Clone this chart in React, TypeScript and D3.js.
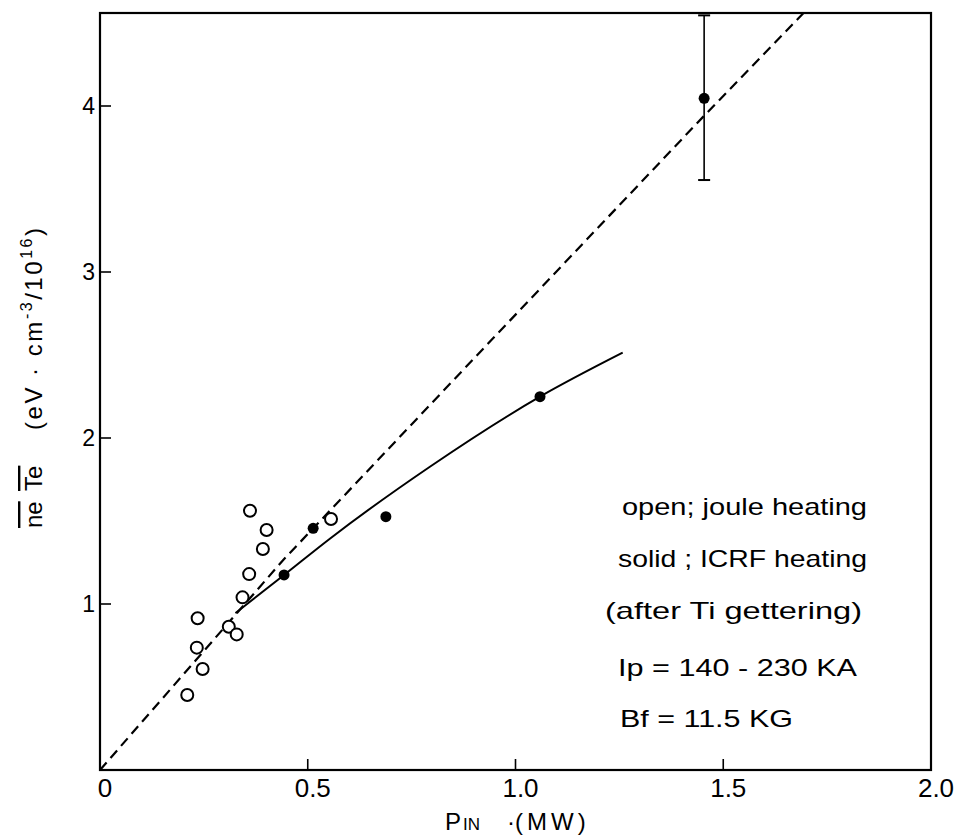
import React from "react";
import * as d3 from "d3";

// ---- data ----
const openX = [0.361, 0.401, 0.392, 0.359, 0.343, 0.235, 0.310, 0.329, 0.233, 0.247, 0.210, 0.556];
const openY = [1.562, 1.446, 1.331, 1.180, 1.040, 0.914, 0.863, 0.817, 0.737, 0.608, 0.452, 1.512];

const solidX = [0.443, 0.513, 0.688, 1.059, 1.454];
const solidY = [1.175, 1.456, 1.526, 2.249, 4.046];
const solidErrUp = [0, 0, 0, 0, 0.5];
const solidErrDown = [0, 0, 0, 0, 0.492];

const dashX = [0, 0.441, 0.858, 1.452, 1.70];
const dashY = [0, 1.265, 2.368, 3.936, 4.578];

const curveX = [0.326, 0.443, 0.554, 0.794, 1.059, 1.258];
const curveY = [0.945, 1.175, 1.395, 1.827, 2.249, 2.514];

const xTickVals = [0, 0.5, 1.0, 1.5, 2.0];
const xTickLabels = ["0", "0.5", "1.0", "1.5", "2.0"];
const yTickVals = [1, 2, 3, 4];
const yTickLabels = ["1", "2", "3", "4"];

const notes = [
  "open; joule heating",
  "solid ; ICRF heating",
  "(after Ti gettering)",
  "Ip = 140 - 230 KA",
  "Bf = 11.5  KG",
];

// ---- layout ----
const W = 958;
const H = 839;
const FONT = "'Liberation Sans', Arial, sans-serif";

export default function App() {
  const x = d3.scaleLinear().domain([0, 2.0]).range([100, 931]);
  const y = d3.scaleLinear().domain([0, 4]).range([770, 106]);
  const yTop = y.invert(13);

  const line = d3
    .line<[number, number]>()
    .x((d) => x(d[0]))
    .y((d) => y(d[1]));
  const curveLine = d3
    .line<[number, number]>()
    .x((d) => x(d[0]))
    .y((d) => y(d[1]))
    .curve(d3.curveMonotoneX);

  const dashPts = dashX.map((v, i) => [v, dashY[i]] as [number, number]);
  const curvePts = curveX.map((v, i) => [v, curveY[i]] as [number, number]);

  const noteX = [622, 618, 605, 618, 620];
  const noteW = [245, 249, 257, 239, 173];
  const noteBase = [515, 567, 619, 676, 727];

  const x0 = x(0);
  const x1 = x(2.0);
  const y0 = y(0);
  const y1 = y(yTop);

  return (
    <div style={{ position: "absolute", left: 0, top: 0 }}>
      <svg width={W} height={H} style={{ display: "block", background: "#fff" }}>
        <rect x={0} y={0} width={W} height={H} fill="#fff" />
        {/* frame */}
        <rect x={x0} y={y1} width={x1 - x0} height={y0 - y1} fill="none" stroke="#000" strokeWidth={2.2} />

        {/* x ticks */}
        {xTickVals.map((v, i) => (
          <g key={"xt" + i}>
            {v > 0 && v < 2 && (
              <line x1={x(v)} x2={x(v)} y1={y0} y2={y0 - 11} stroke="#000" strokeWidth={1.6} />
            )}
            <text
              x={x(v) + 5}
              y={797}
              textAnchor="middle"
              fontFamily={FONT}
              fontSize={26}
              fill="#000"
            >
              {xTickLabels[i]}
            </text>
          </g>
        ))}

        {/* y ticks */}
        {yTickVals.map((v, i) => (
          <g key={"yt" + i}>
            <line x1={x0} x2={x0 + 11} y1={y(v)} y2={y(v)} stroke="#000" strokeWidth={1.6} />
            <text x={95} y={y(v) + 8} textAnchor="end" fontFamily={FONT} fontSize={23} fill="#000">
              {yTickLabels[i]}
            </text>
          </g>
        ))}

        {/* dashed line */}
        <path d={line(dashPts) || ""} fill="none" stroke="#000" strokeWidth={2.2} strokeDasharray="10,6" />

        {/* solid curve */}
        <path d={curveLine(curvePts) || ""} fill="none" stroke="#000" strokeWidth={2} />

        {/* open circles */}
        {openX.map((v, i) => (
          <circle key={"o" + i} cx={x(v)} cy={y(openY[i])} r={6} fill="#fff" stroke="#000" strokeWidth={2} />
        ))}

        {/* error bars */}
        {solidX.map((v, i) =>
          solidErrUp[i] > 0 ? (
            <g key={"e" + i}>
              <line
                x1={x(v)}
                x2={x(v)}
                y1={y(solidY[i] + solidErrUp[i])}
                y2={y(solidY[i] - solidErrDown[i])}
                stroke="#000"
                strokeWidth={1.6}
              />
              <line
                x1={x(v) - 6}
                x2={x(v) + 6}
                y1={y(solidY[i] + solidErrUp[i])}
                y2={y(solidY[i] + solidErrUp[i])}
                stroke="#000"
                strokeWidth={2}
              />
              <line
                x1={x(v) - 6}
                x2={x(v) + 6}
                y1={y(solidY[i] - solidErrDown[i])}
                y2={y(solidY[i] - solidErrDown[i])}
                stroke="#000"
                strokeWidth={2}
              />
            </g>
          ) : null
        )}

        {/* solid points */}
        {solidX.map((v, i) => (
          <circle key={"s" + i} cx={x(v)} cy={y(solidY[i])} r={5.5} fill="#000" />
        ))}

        {/* annotations */}
        {notes.map((t, i) => (
          <text
            key={"n" + i}
            x={noteX[i]}
            y={noteBase[i]}
            fontFamily={FONT}
            fontSize={24}
            fill="#000"
            textLength={noteW[i]}
            lengthAdjust="spacingAndGlyphs"
          >
            {t}
          </text>
        ))}

        {/* x axis label */}
        <text y={830} fontFamily={FONT} fontSize={24} fill="#000">
          <tspan x={445}>P</tspan>
          <tspan x={463} fontSize={17}>IN</tspan>
          <tspan x={507}>·</tspan>
          <tspan x={515} letterSpacing={4}>(MW)</tspan>
        </text>

        {/* y axis label */}
        <text
          transform="translate(42,528) rotate(-90)"
          fontFamily={FONT}
          fontSize={24}
          fill="#000"
          style={{ textDecoration: "overline" }}
        >
          ne
        </text>
        <text
          transform="translate(42,491) rotate(-90)"
          fontFamily={FONT}
          fontSize={24}
          fill="#000"
          style={{ textDecoration: "overline" }}
        >
          Te
        </text>
        <text
          transform="translate(42,430) rotate(-90)"
          fontFamily={FONT}
          fontSize={24}
          fill="#000"
          textLength={202}
          lengthAdjust="spacing"
        >
          <tspan>(eV · cm</tspan>
          <tspan dy={-10} fontSize={16}>-3</tspan>
          <tspan dy={10}>/10</tspan>
          <tspan dy={-10} fontSize={16}>16</tspan>
          <tspan dy={10}>)</tspan>
        </text>
      </svg>
    </div>
  );
}
